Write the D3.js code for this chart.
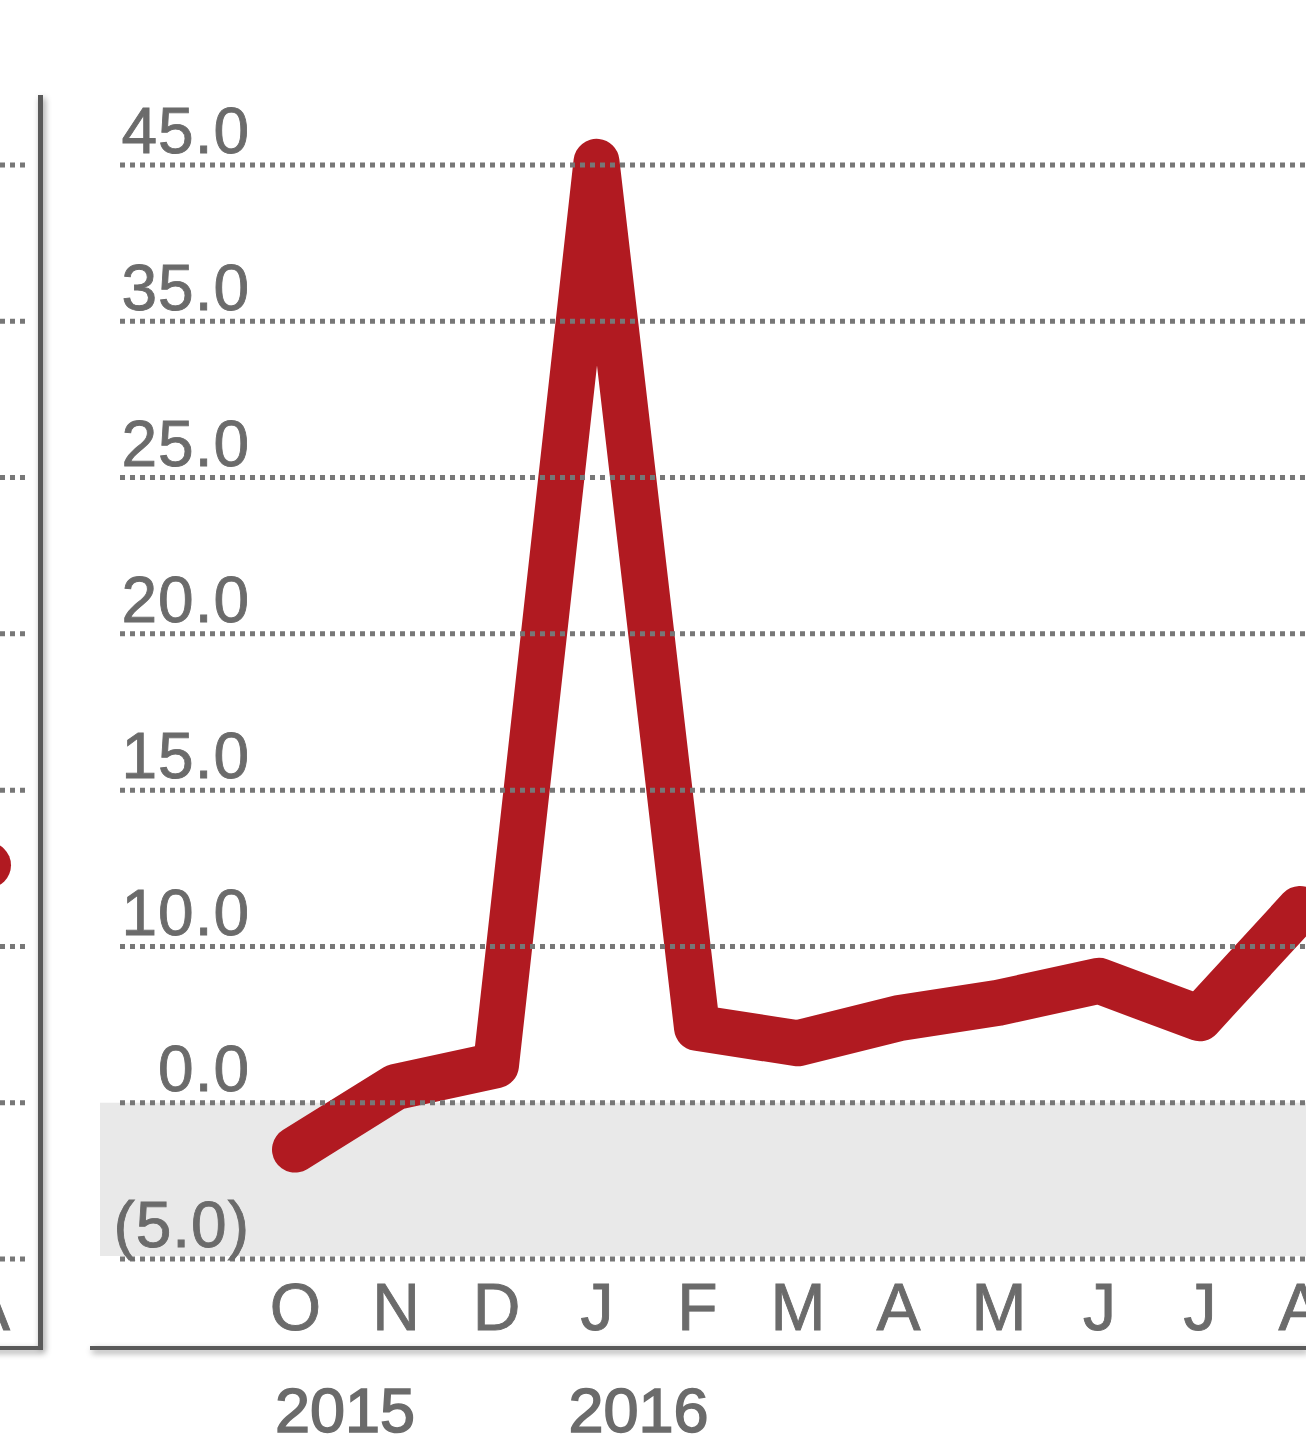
<!DOCTYPE html>
<html>
<head>
<meta charset="utf-8">
<script src="https://cdn.jsdelivr.net/npm/d3@7"></script>
<style>
  body { margin: 0; background: #fff; }
  text { font-family: "Liberation Sans", Arial, Helvetica, sans-serif; fill: #6b6b6b; stroke: #6b6b6b; stroke-width: 0.9px; }
</style>
</head>
<body>
<div id="root"></div>
<script>
// values
const months = ["O", "N", "D", "J", "F", "M", "A", "M2", "J2", "J3", "A2"];
const monthLabels = ["O", "N", "D", "J", "F", "M", "A", "M", "J", "J", "A"];
const values = [-1.5, 1.0, 2.4, 45.2, 4.8, 3.8, 5.4, 6.4, 7.8, 5.4, 11.2];
const yTicks = [-5, 0, 10, 15, 20, 25, 35, 45];
const years = ["2015", "2016"];

// previous panel, only its last point shows at the left edge
const leftMonths = ["A"];
const leftValues = [12.6];

const outerWidth = 1306;
const outerHeight = 1455;

const gridTop = 165;
const gridBottom = 1259;

// the chart spaces its ticks evenly though the values are not
let step = (gridBottom - gridTop) / (yTicks.length - 1);
let scaleY = d3.scaleLinear()
               .domain(yTicks)
               .range(yTicks.map((d, i) => gridBottom - i * step));

let scaleX = d3.scalePoint().domain(months).range([295, 1300]);
let leftX = d3.scalePoint().domain(leftMonths).range([-12, -12]);

let svg = d3.select("#root")
            .append("svg")
            .attr("width", outerWidth)
            .attr("height", outerHeight);

let defs = svg.append("defs");
defs.append("filter")
    .attr("id", "shadow")
    .attr("x", "-50%").attr("y", "-50%")
    .attr("width", "200%").attr("height", "200%")
    .append("feDropShadow")
    .attr("dx", 2).attr("dy", 3)
    .attr("stdDeviation", 3)
    .attr("flood-color", "#000")
    .attr("flood-opacity", 0.4);

// shaded band below zero
svg.append("rect")
    .attr("x", 100)
    .attr("y", scaleY(0))
    .attr("width", outerWidth - 100)
    .attr("height", scaleY(-5) - scaleY(0) - 3)
    .attr("fill", "#e9e9e9");

// line
let line = d3.line()
             .x((d, i) => scaleX(months[i]))
             .y(d => scaleY(d));

svg.append("path")
    .datum(values)
    .attr("d", line)
    .attr("fill", "none")
    .attr("stroke", "#b11a21")
    .attr("stroke-width", 46)
    .attr("stroke-linejoin", "round")
    .attr("stroke-linecap", "round");

svg.selectAll(".left-dot")
    .data(leftValues)
    .enter().append("circle")
    .attr("class", "left-dot")
    .attr("cx", (d, i) => leftX(leftMonths[i]))
    .attr("cy", d => scaleY(d))
    .attr("r", 23)
    .attr("fill", "#b11a21");

// dotted gridlines, drawn over the line
let grid = svg.append("g").attr("class", "grid");
grid.selectAll(".main")
    .data(yTicks)
    .enter().append("line")
    .attr("class", "main")
    .attr("x1", 120).attr("x2", outerWidth)
    .attr("y1", d => scaleY(d)).attr("y2", d => scaleY(d));
grid.selectAll(".left")
    .data(yTicks)
    .enter().append("line")
    .attr("class", "left")
    .attr("x1", 0).attr("x2", 26)
    .attr("y1", d => scaleY(d)).attr("y2", d => scaleY(d));
grid.selectAll("line")
    .attr("stroke", "#777")
    .attr("stroke-width", 5)
    .attr("stroke-dasharray", "5 5");

// y labels sit above their gridline
let yAxis = d3.axisLeft(scaleY)
              .tickValues(yTicks)
              .tickSize(0)
              .tickPadding(0)
              .tickFormat(d => d < 0 ? `(${Math.abs(d).toFixed(1)})` : d.toFixed(1));

let yG = svg.append("g")
    .attr("transform", "translate(250,0)")
    .call(yAxis);
yG.select(".domain").remove();
yG.selectAll("text")
    .attr("dy", "-0.19em")
    .style("font-size", "64px")
    .style("letter-spacing", "1px")
    .style("fill", "#6b6b6b");

// month labels
let xAxis = d3.axisBottom(scaleX)
              .tickSize(0)
              .tickFormat((d, i) => monthLabels[i]);

let xG = svg.append("g")
    .attr("transform", "translate(0,1330)")
    .call(xAxis);
xG.select(".domain").remove();
xG.selectAll("text")
    .attr("y", 0)
    .attr("dy", 0)
    .style("font-size", "66px")
    .style("fill", "#6b6b6b");

svg.append("text")
    .attr("x", leftX("A"))
    .attr("y", 1330)
    .attr("text-anchor", "middle")
    .style("font-size", "66px")
    .text("A");

// year labels under the panel
let yearPos = [scaleX("O") + 50, scaleX("J") + 42];
svg.selectAll(".year")
    .data(years)
    .enter().append("text")
    .attr("class", "year")
    .attr("x", (d, i) => yearPos[i])
    .attr("y", 1432)
    .attr("text-anchor", "middle")
    .style("font-size", "63px")
    .style("stroke-width", "1.6px")
    .style("fill", "#6b6b6b")
    .text(d => d);

// panel edges
let edges = svg.append("g").attr("filter", "url(#shadow)");
edges.append("rect")
    .attr("x", 38).attr("y", 95)
    .attr("width", 5).attr("height", 1255);
edges.append("rect")
    .attr("x", -10).attr("y", 1346)
    .attr("width", 53).attr("height", 4);
edges.append("rect")
    .attr("x", 90).attr("y", 1346)
    .attr("width", outerWidth - 90).attr("height", 4);
edges.selectAll("rect").attr("fill", "#5a5a5a");
</script>
</body>
</html>
